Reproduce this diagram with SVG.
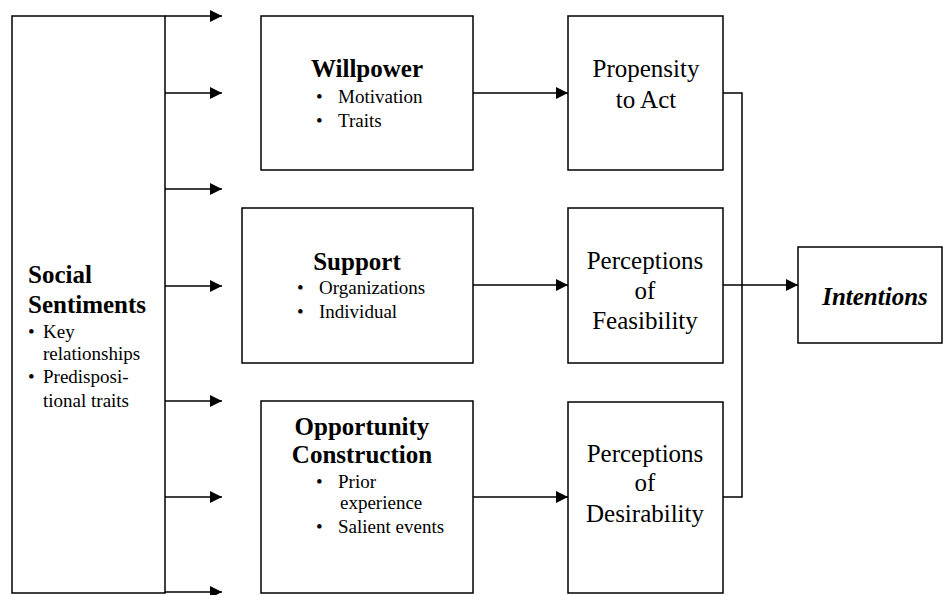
<svg xmlns="http://www.w3.org/2000/svg" width="944" height="595" viewBox="0 0 944 595">
<style>
.box{fill:#fff;stroke:#000;stroke-width:1.5}
.ln{fill:none;stroke:#000;stroke-width:1.5}
.t{font-family:"Liberation Serif","Times New Roman",serif;fill:#000}
.h{font-size:25px;font-weight:bold}
.b{font-size:19px}
.m{font-size:25px}
.c{text-anchor:middle}
</style>
<defs>
<marker id="ah" markerUnits="userSpaceOnUse" markerWidth="13" markerHeight="12" refX="12" refY="6" orient="auto">
<path d="M0,0 L12,6 L0,12 z" fill="#000"/>
</marker>
</defs>
<rect width="944" height="595" fill="#fff"/>
<g id="social">
<rect class="box" x="12" y="16" width="153" height="577"/>
<text class="t h" x="28" y="283">Social</text>
<text class="t h" x="28" y="313">Sentiments</text>
<text class="t b" x="28" y="338">•</text>
<text class="t b" x="43" y="338">Key</text>
<text class="t b" x="43" y="360">relationships</text>
<text class="t b" x="28" y="383">•</text>
<text class="t b" x="43" y="383">Predisposi-</text>
<text class="t b" x="43" y="407">tional traits</text>
</g>
<g id="willpower">
<rect class="box" x="261" y="16" width="212" height="154"/>
<text class="t h c" x="367" y="77">Willpower</text>
<text class="t b" x="316" y="103">•</text>
<text class="t b" x="338" y="103">Motivation</text>
<text class="t b" x="316" y="127">•</text>
<text class="t b" x="338" y="127">Traits</text>
</g>
<g id="support">
<rect class="box" x="242" y="208" width="231" height="155"/>
<text class="t h c" x="357" y="270">Support</text>
<text class="t b" x="297" y="294">•</text>
<text class="t b" x="319" y="294">Organizations</text>
<text class="t b" x="297" y="318">•</text>
<text class="t b" x="319" y="318">Individual</text>
</g>
<g id="opportunity">
<rect class="box" x="261" y="401" width="212" height="192"/>
<text class="t h c" x="362" y="435">Opportunity</text>
<text class="t h c" x="362" y="463">Construction</text>
<text class="t b" x="316" y="488">•</text>
<text class="t b" x="338" y="488">Prior</text>
<text class="t b" x="340" y="509">experience</text>
<text class="t b" x="316" y="533">•</text>
<text class="t b" x="338" y="533">Salient events</text>
</g>
<g id="propensity">
<rect class="box" x="568" y="16" width="155" height="154"/>
<text class="t m c" x="646" y="77">Propensity</text>
<text class="t m c" x="646" y="108">to Act</text>
</g>
<g id="feasibility">
<rect class="box" x="568" y="208" width="155" height="155"/>
<text class="t m c" x="645" y="269">Perceptions</text>
<text class="t m c" x="645" y="299">of</text>
<text class="t m c" x="645" y="329">Feasibility</text>
</g>
<g id="desirability">
<rect class="box" x="568" y="402" width="155" height="191"/>
<text class="t m c" x="645" y="462">Perceptions</text>
<text class="t m c" x="645" y="491">of</text>
<text class="t m c" x="645" y="522">Desirability</text>
</g>
<g id="intentions">
<rect class="box" x="798" y="247" width="144" height="96"/>
<text class="t h c" x="875" y="305" font-style="italic">Intentions</text>
</g>
<g id="connectors">
<line class="ln" x1="165" y1="16" x2="222" y2="16" marker-end="url(#ah)"/>
<line class="ln" x1="165" y1="93" x2="222" y2="93" marker-end="url(#ah)"/>
<line class="ln" x1="165" y1="189" x2="222" y2="189" marker-end="url(#ah)"/>
<line class="ln" x1="165" y1="286" x2="222" y2="286" marker-end="url(#ah)"/>
<line class="ln" x1="165" y1="401" x2="222" y2="401" marker-end="url(#ah)"/>
<line class="ln" x1="165" y1="497" x2="222" y2="497" marker-end="url(#ah)"/>
<line class="ln" x1="165" y1="592" x2="222" y2="592" marker-end="url(#ah)"/>
<line class="ln" x1="473" y1="93" x2="568" y2="93" marker-end="url(#ah)"/>
<line class="ln" x1="473" y1="285" x2="568" y2="285" marker-end="url(#ah)"/>
<line class="ln" x1="473" y1="497" x2="568" y2="497" marker-end="url(#ah)"/>
<polyline class="ln" points="723,93 742,93 742,497 723,497"/>
<line class="ln" x1="723" y1="285" x2="798" y2="285" marker-end="url(#ah)"/>
</g>
</svg>
